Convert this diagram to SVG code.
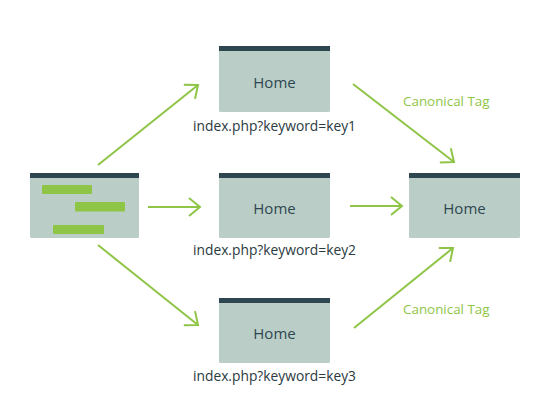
<svg xmlns="http://www.w3.org/2000/svg" width="555" height="400" viewBox="0 0 555 400">
<style>
.box{fill:#bacec7}
.hdr{fill:#2e4650}
.bar{fill:#8fc547}
.home{font-family:"Open Sans","Noto Sans",sans-serif;font-size:15px;fill:#2e4650;text-anchor:middle}
.lbl{font-family:"Open Sans","Noto Sans",sans-serif;font-size:13.8px;fill:#2a3a40}
.tag{font-family:"Open Sans","Noto Sans",sans-serif;font-size:13.4px;fill:#8fc547}
.ln{stroke:#8fc547;stroke-width:2;fill:none}
</style>
<defs>
<marker id="ah" viewBox="0 0 20 20" refX="14" refY="10" markerWidth="20" markerHeight="20" markerUnits="userSpaceOnUse" orient="auto">
<path d="M3,1 L14,10 L3,19" fill="none" stroke="#8fc547" stroke-width="2"/>
</marker>
</defs>
<rect width="555" height="400" fill="#ffffff"/>
<g id="source">
<rect class="box" x="30" y="173" width="109" height="65" rx="1.5"/>
<rect class="hdr" x="30" y="173" width="109" height="5"/>
<rect class="bar" x="42" y="185" width="50" height="9" rx="1"/>
<rect class="bar" x="75" y="202" width="50" height="9.5" rx="1"/>
<rect class="bar" x="53" y="225" width="51" height="9" rx="1"/>
</g>
<g id="page1">
<rect class="box" x="219" y="46" width="111" height="66" rx="1.5"/>
<rect class="hdr" x="219" y="46" width="111" height="5"/>
<text class="home" x="274.5" y="88">Home</text>
<text class="lbl" x="193" y="131">index.php?keyword=key1</text>
</g>
<g id="page2">
<rect class="box" x="219" y="173" width="111" height="65" rx="1.5"/>
<rect class="hdr" x="219" y="173" width="111" height="5"/>
<text class="home" x="274.5" y="214">Home</text>
<text class="lbl" x="193" y="255">index.php?keyword=key2</text>
</g>
<g id="page3">
<rect class="box" x="219" y="298" width="111" height="65" rx="1.5"/>
<rect class="hdr" x="219" y="298" width="111" height="5"/>
<text class="home" x="274.5" y="339">Home</text>
<text class="lbl" x="193" y="381">index.php?keyword=key3</text>
</g>
<g id="canonical">
<rect class="box" x="409" y="173" width="111" height="65" rx="1.5"/>
<rect class="hdr" x="409" y="173" width="111" height="5"/>
<text class="home" x="464.5" y="214">Home</text>
</g>
<g id="connectors">
<line class="ln" x1="98" y1="165" x2="198" y2="85" marker-end="url(#ah)"/>
<line class="ln" x1="148" y1="207" x2="200" y2="207" marker-end="url(#ah)"/>
<line class="ln" x1="98" y1="245" x2="198" y2="325" marker-end="url(#ah)"/>
<line class="ln" x1="353" y1="84" x2="454" y2="162" marker-end="url(#ah)"/>
<line class="ln" x1="350" y1="206" x2="402" y2="206" marker-end="url(#ah)"/>
<line class="ln" x1="354" y1="328" x2="453" y2="248" marker-end="url(#ah)"/>
<text class="tag" x="403" y="106">Canonical Tag</text>
<text class="tag" x="403" y="314">Canonical Tag</text>
</g>
</svg>
